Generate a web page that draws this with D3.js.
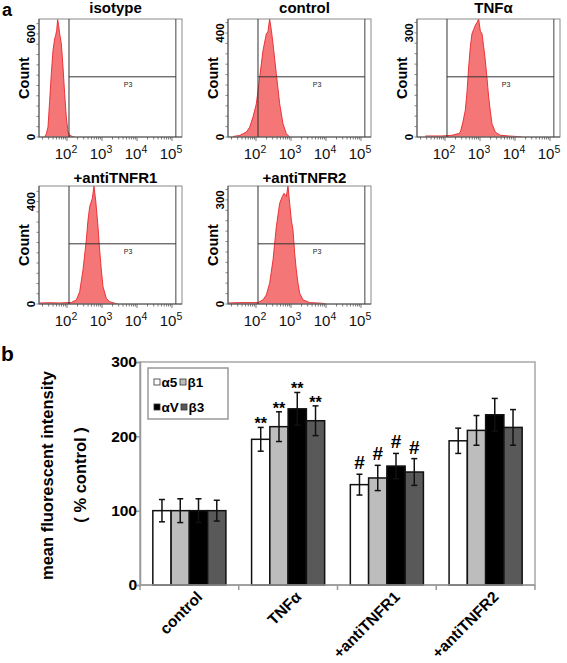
<!DOCTYPE html>
<html><head><meta charset="utf-8">
<script src="https://cdn.jsdelivr.net/npm/d3@7"></script>
<style>body{margin:0;background:#fff}svg{display:block}text{font-family:"Liberation Sans",Arial,sans-serif}</style>
</head><body><svg id="c" width="567" height="663"></svg>
<script>
// ---------- Panel a data (histograms: log10 fluorescence, count) ----------
const histTitles = ["isotype", "control", "TNFα", "+antiTNFR1", "+antiTNFR2"];
const histYTick = [600, 400, 300, 400, 300];
const histYMax = [687, 454, 340, 461, 340];
const xTickDecades = [2, 3, 4, 5];
const isoLog = [1.36,1.41,1.457,1.505,1.552,1.60,1.648,1.676,1.705,1.733,1.762,1.79,1.838,1.886,1.933,1.98,2.03,2.076,2.17,2.22];
const isoCount = [0,19,58,213,369,505,573,592,621,685,650,602,543,408,252,116,29,10,2,0];
const ctrlLog = [1.343,1.533,1.724,1.82,1.914,2.01,2.105,2.2,2.295,2.34,2.39,2.44,2.486,2.58,2.676,2.771,2.867,2.962];
const ctrlCount = [2,6,19,38,77,128,230,333,397,404,454,410,359,244,128,51,13,0];
const tnfLog = [1.438,1.914,2.2,2.39,2.438,2.505,2.58,2.629,2.676,2.724,2.771,2.819,2.867,2.914,2.962,3.01,3.057,3.105,3.152,3.2,3.248,3.295,3.343,3.438,3.581,3.819,4.105,4.2];
const tnfCount = [3,3,5,10,14,40,77,130,202,260,298,310,322,330,340,305,298,260,221,170,115,75,38,14,5,3,1,0];
const r1Log = [1.219,1.505,1.79,2.124,2.267,2.362,2.457,2.552,2.6,2.648,2.724,2.771,2.819,2.886,2.933,2.981,3.029,3.124,3.219,3.362,3.45];
const r1Count = [4,5,4,6,16,48,133,250,328,380,413,461,406,302,211,133,68,22,9,3,0];
const r2Log = [1.2,1.533,2.057,2.2,2.295,2.39,2.486,2.581,2.676,2.752,2.8,2.867,2.914,2.962,3.01,3.057,3.105,3.152,3.2,3.248,3.343,3.533,3.914,4.0];
const r2Count = [3,4,4,12,26,60,127,223,290,310,319,310,341,290,242,213,146,98,60,31,12,4,2,0];
const histLogs = [isoLog, ctrlLog, tnfLog, r1Log, r2Log];
const histCounts = [isoCount, ctrlCount, tnfCount, r1Count, r2Count];

// ---------- Panel b data ----------
const categories = ["control", "TNFα", "+antiTNFR1", "+antiTNFR2"];
const seriesNames = ["α5", "β1", "αV", "β3"];
const alpha5 = [100, 196, 135, 194];
const alpha5Err = [15, 16, 14, 17];
const beta1 = [100, 213, 144, 208];
const beta1Err = [16, 20, 17, 20];
const alphaV = [100, 237, 160, 229];
const alphaVErr = [16, 22, 17, 22];
const beta3 = [100, 221, 152, 212];
const beta3Err = [14, 20, 18, 24];
const sigMarks = ["", "**", "#", ""];
const yTicksB = [0, 100, 200, 300];

const svg = d3.select("#c");

// ================= Panel a =================
svg.append("text").attr("x", 2).attr("y", 16).attr("font-size", 18).attr("font-weight", "bold").text("a");
const frames = [{x:39,y:19},{x:228,y:19},{x:417,y:19},{x:39,y:186},{x:228,y:186}];
const FW = 143, FH = 118;
frames.forEach((f, i) => {
  const g = svg.append("g").attr("transform", `translate(${f.x},${f.y})`);
  const x = d3.scaleLinear().domain([2, 5]).range([28, 133]);
  const y = d3.scaleLinear().domain([0, histYMax[i]]).range([FH, 0]);
  const cid = "clip" + i;
  g.append("clipPath").attr("id", cid).append("rect").attr("width", FW).attr("height", FH);
  const data = histLogs[i].map((v, j) => [v, histCounts[i][j]]);
  const area = d3.area().x(d => x(d[0])).y0(FH).y1(d => y(d[1]));
  const line = d3.line().x(d => x(d[0])).y(d => y(d[1]));
  g.append("path").attr("clip-path", `url(#${cid})`).attr("d", area(data)).attr("fill", "#f47676");
  g.append("path").attr("clip-path", `url(#${cid})`).attr("d", line(data)).attr("fill", "none").attr("stroke", "#e8262b").attr("stroke-width", 0.9);
  // frame
  g.append("rect").attr("width", FW).attr("height", FH).attr("fill", "none").attr("stroke", "#8a8a8a").attr("stroke-width", 1);
  g.append("line").attr("x1", 0).attr("x2", 0).attr("y1", 0).attr("y2", FH).attr("stroke", "#555");
  g.append("line").attr("x1", 0).attr("x2", FW).attr("y1", FH).attr("y2", FH).attr("stroke", "#555");
  // gate P3
  const gl = x(2.057), gr = x(5.11), gy = FH * 0.49;
  g.append("line").attr("x1", gl).attr("x2", gl).attr("y1", 0).attr("y2", FH).attr("stroke", "#333");
  g.append("line").attr("x1", gr).attr("x2", gr).attr("y1", 0).attr("y2", FH).attr("stroke", "#444");
  g.append("line").attr("x1", gl).attr("x2", gr).attr("y1", gy).attr("y2", gy).attr("stroke", "#333");
  g.append("text").attr("x", 89).attr("y", gy + 10).attr("font-size", 7).attr("text-anchor", "middle").attr("fill", "#222").text("P3");
  // x ticks (log minor ticks)
  for (let k = 1; k <= 5; k++) {
    for (let m = 1; m <= 9; m++) {
      const v = k + Math.log10(m);
      const px = x(v);
      if (px < 1 || px > FW - 1) continue;
      g.append("line").attr("x1", px).attr("x2", px).attr("y1", FH).attr("y2", FH + (m === 1 ? 4 : 2.5)).attr("stroke", "#555").attr("stroke-width", 0.8);
    }
  }
  xTickDecades.forEach(d => {
    const t = g.append("text").attr("x", x(d) - 1).attr("y", FH + 22).attr("font-size", 15).attr("text-anchor", "middle").attr("fill", "#111");
    t.append("tspan").text("10");
    t.append("tspan").attr("dy", -6).attr("font-size", 10.5).text(d);
  });
  // y ticks
  const step = histYTick[i] / 10;
  for (let v = 0; v <= histYMax[i]; v += step) {
    g.append("line").attr("x1", 0).attr("x2", -2.5).attr("y1", y(v)).attr("y2", y(v)).attr("stroke", "#666").attr("stroke-width", 0.8);
  }
  [0, histYTick[i]].forEach(v => {
    g.append("text").attr("transform", `translate(-4,${y(v)}) rotate(-90)`).attr("text-anchor", "middle").attr("font-size", 11.5).attr("font-weight", "bold").text(v);
  });
  g.append("text").attr("transform", `translate(-10,${FH * 0.5}) rotate(-90)`).attr("text-anchor", "middle").attr("font-size", 14.5).attr("font-weight", "bold").text("Count");
  g.append("text").attr("x", FW / 2 + 5).attr("y", i < 3 ? -6 : -3).attr("text-anchor", "middle").attr("font-size", 15).attr("font-weight", "bold").text(histTitles[i]);
});

// ================= Panel b =================
svg.append("text").attr("x", 1).attr("y", 361).attr("font-size", 21).attr("font-weight", "bold").text("b");
const L = 140, R = 535, T = 362, B = 585;
const y = d3.scaleLinear().domain([0, 300]).range([B, T]);
const x0 = d3.scaleBand().domain(categories).range([L, R]).paddingInner(0.26).paddingOuter(0.13);
const x1 = d3.scaleBand().domain(seriesNames).range([0, x0.bandwidth()]);
const colors = ["#ffffff", "#bdbdbd", "#000000", "#595959"];
const vals = [alpha5, beta1, alphaV, beta3];
const errs = [alpha5Err, beta1Err, alphaVErr, beta3Err];

// frame
svg.append("rect").attr("x", L).attr("y", T).attr("width", R - L).attr("height", B - T).attr("fill", "none").attr("stroke", "#a8a8a8").attr("stroke-width", 1.5);
const gb = svg.append("g");
categories.forEach((c, ci) => {
  seriesNames.forEach((s, si) => {
    const v = vals[si][ci];
    const bx = x0(c) + x1(s), bw = x1.bandwidth();
    gb.append("rect").attr("x", bx).attr("y", y(v)).attr("width", bw).attr("height", B - y(v))
      .attr("fill", colors[si]).attr("stroke", "#111").attr("stroke-width", 1.5);
  });
  seriesNames.forEach((s, si) => {
    const v = vals[si][ci], e = errs[si][ci];
    const cx = x0(c) + x1(s) + x1.bandwidth() / 2;
    gb.append("line").attr("x1", cx).attr("x2", cx).attr("y1", y(v + e)).attr("y2", y(v - e)).attr("stroke", "#111").attr("stroke-width", 1.5);
    [v + e, v - e].forEach(w => gb.append("line").attr("x1", cx - 3).attr("x2", cx + 3).attr("y1", y(w)).attr("y2", y(w)).attr("stroke", "#111").attr("stroke-width", 1.5));
    if (sigMarks[ci]) {
      const isStar = sigMarks[ci] === "**";
      gb.append("text").attr("x", cx).attr("y", y(v + e) + (isStar ? 2 : -5)).attr("text-anchor", "middle")
        .attr("font-size", isStar ? 16 : 19).attr("font-weight", "bold").text(sigMarks[ci]);
    }
  });
});
// axes
const yAxis = d3.axisLeft(y).tickValues(yTicksB).tickSize(4).tickFormat(d3.format("d"));
const ya = svg.append("g").attr("transform", `translate(${L},0)`).call(yAxis);
ya.select(".domain").attr("stroke", "#999").attr("stroke-width", 1.5);
ya.selectAll(".tick line").attr("stroke", "#999").attr("stroke-width", 1.5);
ya.selectAll(".tick text").attr("font-family", "DejaVu Sans, sans-serif").attr("font-size", 15.5).attr("font-weight", "bold").attr("fill", "#000").attr("x", -3);
const bAxis = svg.append("g");
bAxis.append("line").attr("x1", L).attr("x2", R).attr("y1", B).attr("y2", B).attr("stroke", "#999").attr("stroke-width", 1.5);
d3.range(categories.length + 1).forEach(i => {
  const tx = L + i * x0.step();
  bAxis.append("line").attr("x1", tx).attr("x2", tx).attr("y1", B).attr("y2", B + 5).attr("stroke", "#999").attr("stroke-width", 1.5);
});
categories.forEach(c => {
  const cx = x0(c) + x0.bandwidth() / 2;
  svg.append("text").attr("transform", `translate(${cx + 14},${B + 13}) rotate(-45)`).attr("text-anchor", "end")
    .attr("font-size", 15.5).attr("font-weight", "bold").text(c);
});
// y title
svg.append("text").attr("transform", `translate(53,${(T + B) / 2 + 2}) rotate(-90)`).attr("text-anchor", "middle").attr("font-size", 16.5).attr("font-weight", "bold").text("mean fluorescent intensity");
svg.append("text").attr("transform", `translate(86,475) rotate(-90)`).attr("text-anchor", "middle").attr("font-size", 16.5).attr("font-weight", "bold").text("( % control )");

// legend
const lg = svg.append("g");
lg.append("rect").attr("x", 148).attr("y", 368).attr("width", 80).attr("height", 51).attr("fill", "#fff").attr("stroke", "#999").attr("stroke-width", 1.5);
const legPos = [[154, 387], [180, 387], [154, 412], [181, 412]];
seriesNames.forEach((s, si) => {
  const [lx, ly] = legPos[si];
  lg.append("rect").attr("x", lx).attr("y", ly - 8).attr("width", 6).attr("height", 6).attr("fill", colors[si]).attr("stroke", "#333").attr("stroke-width", 0.8);
  lg.append("text").attr("x", lx + 7.5).attr("y", ly).attr("font-size", 13.5).attr("font-weight", "bold").text(s);
});
</script></body></html>
